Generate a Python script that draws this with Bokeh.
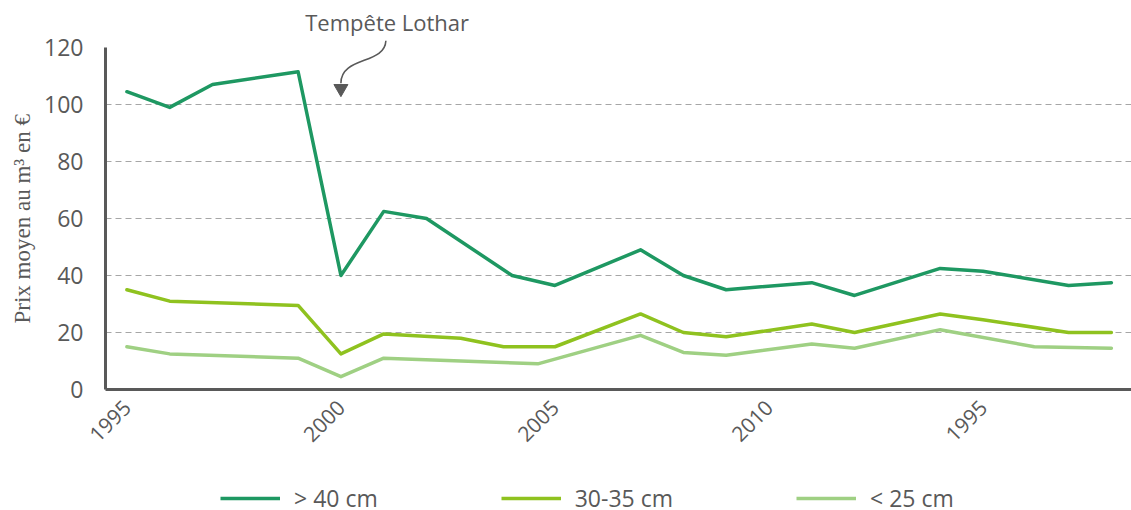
import math
from bokeh.plotting import figure
from bokeh.layouts import column
from bokeh.models import FixedTicker, Range1d, Legend, LegendItem, Label, Title
from bokeh.embed import file_html
from bokeh.resources import INLINE

# ---- data ----
years_40 = [1995, 1996, 1997, 1999, 2000, 2001, 2002, 2004, 2005, 2007, 2008, 2009, 2011, 2012, 2014, 2015, 2017, 2018]
vals_40 = [104.5, 99, 107, 111.5, 40, 62.5, 60, 40, 36.5, 49, 40, 35, 37.5, 33, 42.5, 41.5, 36.5, 37.5]

years_30 = [1995, 1996, 1999, 2000, 2001, 2002.8, 2003.8, 2005, 2007, 2008, 2009, 2011, 2012, 2014, 2015, 2017, 2018]
vals_30 = [35, 31, 29.5, 12.5, 19.5, 18, 15, 15, 26.5, 20, 18.5, 23, 20, 26.5, 24.5, 20, 20]

years_25 = [1995, 1996, 1999, 2000, 2001, 2004.6, 2007, 2008, 2009, 2011, 2012, 2014, 2016.2, 2018]
vals_25 = [15, 12.5, 11, 4.5, 11, 9, 19, 13, 12, 16, 14.5, 21, 15, 14.5]

series_names = ["> 40 cm", "30-35 cm", "< 25 cm"]
series_colors = ["#1e9862", "#8fc21f", "#9fd083"]

x_ticks = [1995, 2000, 2005, 2010, 2015]
x_tick_labels = ["1995", "2000", "2005", "2010", "1995"]
y_ticks = [0, 20, 40, 60, 80, 100, 120]
grid_ticks = [20, 40, 60, 80, 100]

y_title = "Prix moyen au m³ en €"
storm_label = "Tempête Lothar"
storm_year = 2000

TXT = "#595959"
FONT = "Open Sans"

all_x = [years_40, years_30, years_25]
all_y = [vals_40, vals_30, vals_25]

# ---------------- main chart ----------------
p = figure(width=1131, height=468, output_backend="svg", toolbar_location=None,
           x_range=Range1d(1994.5, 2018.47), y_range=Range1d(0, 136.5),
           min_border_left=101, min_border_right=0, min_border_top=0, min_border_bottom=79)
p.outline_line_color = None
p.background_fill_color = "white"
p.border_fill_color = "white"

p.yaxis.ticker = FixedTicker(ticks=y_ticks)
p.yaxis.bounds = (0, 120)
p.yaxis.axis_line_width = 3
p.yaxis.axis_line_color = TXT
p.yaxis.major_tick_line_color = None
p.yaxis.minor_tick_line_color = None
p.yaxis.major_label_standoff = 16
p.yaxis.major_label_text_font = FONT
p.yaxis.major_label_text_font_size = "23px"
p.yaxis.major_label_text_color = TXT

p.add_layout(Title(text=y_title, align="left", offset=66, standoff=14,
                   text_font="Liberation Serif", text_font_size="23px",
                   text_font_style="normal", text_color=TXT), "left")

p.xaxis.ticker = FixedTicker(ticks=x_ticks)
p.xaxis.major_label_overrides = {t: l for t, l in zip(x_ticks, x_tick_labels)}
p.xaxis.major_label_orientation = math.pi / 4
p.xaxis.axis_line_width = 3
p.xaxis.axis_line_color = TXT
p.xaxis.major_tick_line_color = None
p.xaxis.minor_tick_line_color = None
p.xaxis.major_label_standoff = 8
p.xaxis.major_label_text_font = FONT
p.xaxis.major_label_text_font_size = "21px"
p.xaxis.major_label_text_color = TXT

p.xgrid.visible = False
p.ygrid.ticker = FixedTicker(ticks=grid_ticks)
p.ygrid.grid_line_color = "#a6a6a6"
p.ygrid.grid_line_dash = "6 4"
p.ygrid.grid_line_width = 1

for xs, ys, c in zip(all_x, all_y, series_colors):
    p.line(xs, ys, line_width=3.5, line_color=c, line_join="round", line_cap="round")

p.add_layout(Label(x=storm_year + 1.08, y=128.8, text=storm_label, text_align="center",
                   text_baseline="middle", text_font=FONT, text_font_size="22px",
                   text_color=TXT))
p.bezier(x0=[storm_year + 1.05], y0=[122.4], x1=[storm_year], y1=[107.5],
         cx0=[storm_year + 1.03], cy0=[114.0], cx1=[storm_year], cy1=[117.0],
         line_color=TXT, line_width=1.6)
p.scatter([storm_year], [105.6], marker="inverted_triangle", size=14, color=TXT)

# ---------------- legend strip ----------------
lg = figure(width=1131, height=42, output_backend="svg", toolbar_location=None,
            x_axis_location=None, y_axis_location=None,
            x_range=Range1d(1994.5, 2018.47), y_range=Range1d(1000, 1001),
            min_border_left=0, min_border_right=0, min_border_top=0, min_border_bottom=0)
lg.outline_line_color = None
lg.xgrid.visible = False
lg.ygrid.visible = False
lg.background_fill_color = "white"
lg.border_fill_color = "white"

legend_renderers = []
for xs, ys, c in zip(all_x, all_y, series_colors):
    legend_renderers.append(lg.line(xs, ys, line_width=3.5, line_color=c))

legend = Legend(items=[LegendItem(label=n, renderers=[r]) for n, r in zip(series_names, legend_renderers)],
                orientation="horizontal", location=(115, -4))
legend.padding = 0
legend.margin = 0
legend.spacing = 123
legend.glyph_width = 60
legend.glyph_height = 20
legend.label_standoff = 14
legend.label_text_font = FONT
legend.label_text_font_size = "23px"
legend.label_text_color = TXT
legend.border_line_color = None
legend.background_fill_alpha = 0
lg.add_layout(legend)

layout = column(p, lg, spacing=0)
open("out.html", "w").write(file_html(layout, INLINE))
